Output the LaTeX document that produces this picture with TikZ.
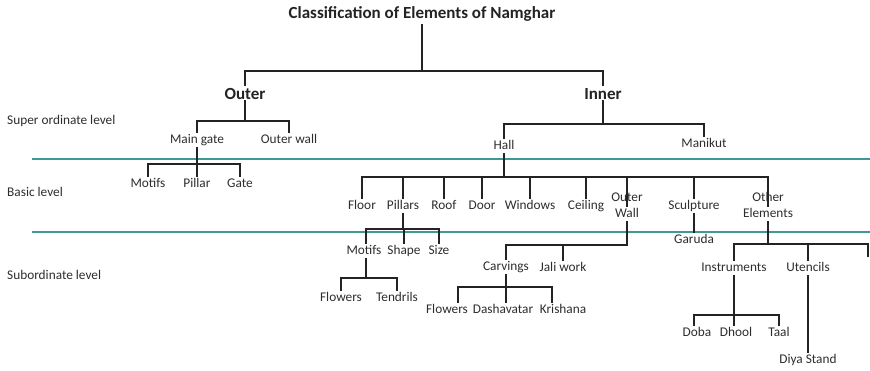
\documentclass[tikz,border=0pt]{standalone}
\usepackage{fontspec}
\setmainfont{Carlito}
\begin{document}
\definecolor{tealline}{RGB}{62,154,146}
\definecolor{ink}{RGB}{35,35,35}
\definecolor{txt}{RGB}{45,45,45}
\begin{tikzpicture}[x=1pt,y=-1pt,
  lbl/.style={font=\fontsize{13.3}{16}\selectfont, text=txt, inner sep=2pt,
              text height=9pt, text depth=2.5pt, align=center},
  lvl/.style={lbl, anchor=west},
  head/.style={font=\bfseries\fontsize{17}{20}\selectfont, text=ink, inner sep=2pt,
               text height=12pt, text depth=0pt},
  ttl/.style={font=\bfseries\fontsize{17}{20}\selectfont, text=ink, inner sep=3pt},
  conn/.style={draw=ink, line width=1.6pt, line cap=rect},
  band/.style={draw=tealline, line width=2.4pt}]
\useasboundingbox (0,0) rectangle (870,370);

% level separators
\coordinate (s1a) at (32,159);  \coordinate (s1b) at (870,159);
\coordinate (s2a) at (32,232);  \coordinate (s2b) at (870,232);
\draw[band] (s1a) -- (s1b);
\draw[band] (s2a) -- (s2b);

% level names
\node[lvl] (lv1) at (5,121) {Super ordinate level};
\node[lvl] (lv2) at (5,193) {Basic level};
\node[lvl] (lv3) at (5,276) {Subordinate level};

% title and the two main groups
\node[ttl]  (root)  at (422,14) {Classification of Elements of Namghar};
\node[head] (outer) at (245,93) {Outer};
\node[head] (inner) at (603,93) {Inner};

% super ordinate level
\node[lbl] (mgate) at (197,140) {Main gate};
\node[lbl] (owall) at (289,140) {Outer wall};
\node[lbl] (hall)  at (504,146) {Hall};
\node[lbl] (manik) at (704,144) {Manikut};

% basic level
\node[lbl] (mg1) at (148,184) {Motifs};
\node[lbl] (mg2) at (197,184) {Pillar};
\node[lbl] (mg3) at (240,184) {Gate};

\node[lbl] (h1) at (362,206) {Floor};
\node[lbl] (h2) at (403,206) {Pillars};
\node[lbl] (h3) at (444,206) {Roof};
\node[lbl] (h4) at (482,206) {Door};
\node[lbl] (h5) at (530,206) {Windows};
\node[lbl] (h6) at (586,206) {Ceiling};
\node[lbl] (h7) at (627,214) {Outer\\Wall};
\node[lbl] (h8) at (694,206) {Sculpture};
\node[lbl] (h9) at (768,214) {Other\\Elements};

% subordinate level
\node[lbl] (p1) at (364,251) {Motifs};
\node[lbl] (p2) at (404,251) {Shape};
\node[lbl] (p3) at (439,251) {Size};
\node[lbl] (m1) at (341,298) {Flowers};
\node[lbl] (m2) at (397,298) {Tendrils};

\node[lbl] (w1) at (506,267) {Carvings};
\node[lbl] (w2) at (563,268) {Jali work};
\node[lbl] (c1) at (447,310) {Flowers};
\node[lbl] (c2) at (503,310) {Dashavatar};
\node[lbl] (c3) at (563,310) {Krishana};

\node[lbl] (garuda) at (694,240) {Garuda};

\node[lbl] (e1) at (734,268) {Instruments};
\node[lbl] (e2) at (808,268) {Utencils};
\node[lbl] (i1) at (697,333) {Doba};
\node[lbl] (i2) at (736,333) {Dhool};
\node[lbl] (i3) at (779,333) {Taal};
\node[lbl] (diya) at (808,360) {Diya Stand};

% bar heights
\coordinate (b0) at (0,71);
\coordinate (bO) at (0,121);
\coordinate (bI) at (0,124);
\coordinate (bM) at (0,164);
\coordinate (bH) at (0,177);
\coordinate (bP) at (0,229);
\coordinate (bF) at (0,278);
\coordinate (bW) at (0,245);
\coordinate (bC) at (0,287);
\coordinate (bE) at (0,244);
\coordinate (bN) at (0,315);
\coordinate (eR) at (868,244);
\coordinate (eRend) at (868,256);

% root
\draw[conn] (root.south) -- (root.south |- b0);
\draw[conn] (outer.north |- b0) -- (inner.north |- b0);
\foreach \c in {outer,inner} \draw[conn] (\c.north |- b0) -- (\c.north);

% Outer
\draw[conn] (outer.south) -- (outer.south |- bO);
\draw[conn] (mgate.north |- bO) -- (owall.north |- bO);
\foreach \c in {mgate,owall} \draw[conn] (\c.north |- bO) -- (\c.north);

% Inner
\draw[conn] (inner.south) -- (inner.south |- bI);
\draw[conn] (hall.north |- bI) -- (manik.north |- bI);
\foreach \c in {hall,manik} \draw[conn] (\c.north |- bI) -- (\c.north);

% Main gate
\draw[conn] (mgate.south) -- (mgate.south |- bM);
\draw[conn] (mg1.north |- bM) -- (mg3.north |- bM);
\foreach \c in {mg1,mg2,mg3} \draw[conn] (\c.north |- bM) -- (\c.north);

% Hall
\draw[conn] (hall.south) -- (hall.south |- bH);
\draw[conn] (h1.north |- bH) -- (h9.north |- bH);
\foreach \c in {h1,h2,h3,h4,h5,h6,h7,h8,h9} \draw[conn] (\c.north |- bH) -- (\c.north);

% Pillars
\draw[conn] (h2.south) -- (h2.south |- bP);
\draw[conn] ([xshift=2pt]p1.north |- bP) -- (p3.north |- bP);
\draw[conn] ([xshift=2pt]p1.north |- bP) -- ([xshift=2pt]p1.north);
\foreach \c in {p2,p3} \draw[conn] (\c.north |- bP) -- (\c.north);

% Motifs
\draw[conn] ([xshift=2pt]p1.south) -- ([xshift=2pt]p1.south |- bF);
\draw[conn] (m1.north |- bF) -- (m2.north |- bF);
\foreach \c in {m1,m2} \draw[conn] (\c.north |- bF) -- (\c.north);

% Outer Wall
\draw[conn] (h7.south) -- (h7.south |- bW);
\draw[conn] (w1.north |- bW) -- (h7.south |- bW);
\foreach \c in {w1,w2} \draw[conn] (\c.north |- bW) -- (\c.north);

% Carvings
\draw[conn] (w1.south) -- (w1.south |- bC);
\draw[conn] ([xshift=11pt]c1.north |- bC) -- ([xshift=-11pt]c3.north |- bC);
\draw[conn] ([xshift=11pt]c1.north |- bC) -- ([xshift=11pt]c1.north);
\draw[conn] (w1.south |- bC) -- (w1.south |- c2.north);
\draw[conn] ([xshift=-11pt]c3.north |- bC) -- ([xshift=-11pt]c3.north);

% Sculpture
\draw[conn] (h8.south) -- (garuda.north);

% Other Elements
\draw[conn] (h9.south) -- (h9.south |- bE);
\draw[conn] (e1.north |- bE) -- (eR);
\foreach \c in {e1,e2} \draw[conn] (\c.north |- bE) -- (\c.north);
\draw[conn] (eR) -- (eRend);

% Instruments
\draw[conn] (e1.south) -- (e1.south |- bN);
\draw[conn] ([xshift=-3pt]i1.north |- bN) -- (i3.north |- bN);
\draw[conn] ([xshift=-3pt]i1.north |- bN) -- ([xshift=-3pt]i1.north);
\draw[conn] ([xshift=-2pt]i2.north |- bN) -- ([xshift=-2pt]i2.north);
\draw[conn] (i3.north |- bN) -- (i3.north);

% Utencils
\draw[conn] (e2.south) -- (diya.north);
\end{tikzpicture}
\end{document}
